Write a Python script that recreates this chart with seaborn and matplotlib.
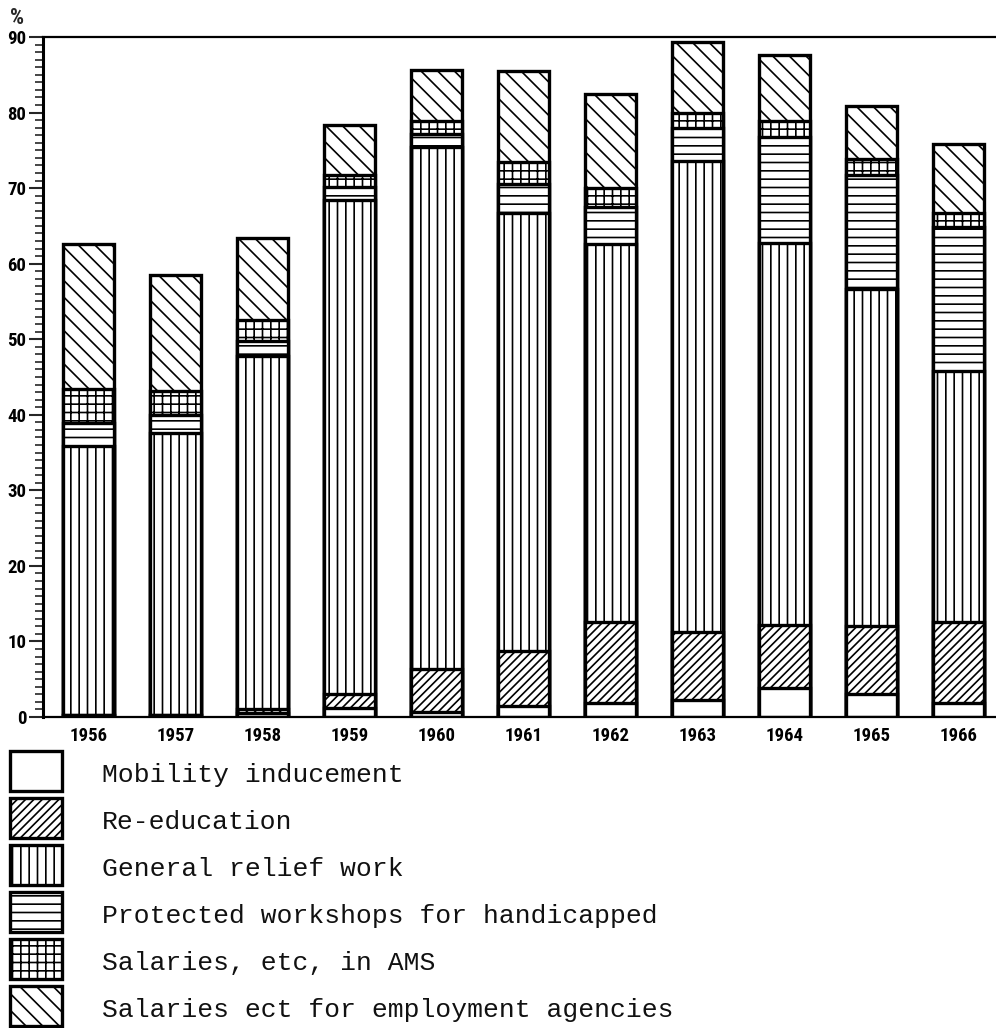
import numpy as np
import matplotlib
matplotlib.use("Agg")
import matplotlib.pyplot as plt
import seaborn as sns
from matplotlib.patches import Rectangle

# values (percent)
years = ["1956", "1957", "1958", "1959", "1960", "1961", "1962", "1963", "1964", "1965", "1966"]
mobility = [0.2, 0.2, 0.5, 1.2, 0.7, 1.5, 1.8, 2.3, 3.9, 3.0, 1.8]
reeducation = [0.0, 0.0, 0.6, 1.9, 5.6, 7.2, 10.8, 8.9, 8.3, 9.0, 10.8]
relief = [35.7, 37.4, 46.7, 65.3, 69.2, 58.0, 50.0, 62.4, 50.6, 44.6, 33.2]
workshops = [3.0, 2.4, 1.9, 1.8, 1.7, 3.9, 4.9, 4.3, 14.0, 15.1, 19.1]
ams = [4.5, 3.2, 2.8, 1.5, 1.7, 2.9, 2.5, 2.0, 2.1, 2.1, 1.8]
agencies = [19.2, 15.3, 10.9, 6.6, 6.7, 12.0, 12.5, 9.4, 8.7, 7.1, 9.1]

labels = ["Mobility inducement", "Re-education", "General relief work",
          "Protected workshops for handicapped", "Salaries, etc, in AMS",
          "Salaries ect for employment agencies"]
hatches = ["", "////", "||", "--", "++", "\\\\"]

sns.set_theme(style="white")
plt.rcParams["hatch.linewidth"] = 1.2
plt.rcParams["hatch.color"] = "black"

series = [mobility, reeducation, relief, workshops, ams, agencies]
cum = np.cumsum(np.array(series), axis=0)

W, H = 996, 1028
fig = plt.figure(figsize=(W / 100, H / 100), dpi=100)
ax = fig.add_axes([43 / W, 311 / H, 953 / W, 680 / H])

# stacked bars: draw the tallest cumulative first, smaller ones on top
for i in range(len(series) - 1, -1, -1):
    sns.barplot(x=years, y=cum[i], color="white", saturation=1, edgecolor="black",
                linewidth=2.4, hatch=hatches[i], width=0.59, errorbar=None, ax=ax)

ax.set_xlim(-0.523, 10.431)
ax.set_ylim(0, 90)
ax.set_yticks(range(0, 91, 10))
ax.set_yticks(range(0, 91, 1), minor=True)
ax.tick_params(axis="y", which="major", direction="out", length=10, width=1.5, left=True, pad=2)
ax.tick_params(axis="y", which="minor", direction="out", length=6, width=1.2, left=True)
ax.tick_params(axis="x", length=0, pad=7)

tick_font = ["Liberation Sans Narrow", "Roboto Condensed", "Roboto", "DejaVu Sans"]
for lab in ax.get_yticklabels() + ax.get_xticklabels():
    lab.set_family(tick_font)
    lab.set_fontweight("bold")
    lab.set_fontsize(13.5)
    lab.set_color("black")

for side in ["top", "left", "bottom"]:
    ax.spines[side].set_visible(True)
    ax.spines[side].set_color("black")
ax.spines["left"].set_linewidth(2.2)
ax.spines["bottom"].set_linewidth(1.6)
ax.spines["top"].set_linewidth(1.6)
ax.spines["right"].set_visible(False)
ax.set_xlabel("")
ax.set_ylabel("")

fig.text(0.01, 0.993, "%", fontsize=16, fontweight="bold", family=tick_font, va="top")

# legend: hatched boxes with typewriter labels under the plot
for k, (lab, h) in enumerate(zip(labels, hatches)):
    top = 751 + 47 * k
    fig.add_artist(Rectangle((10 / W, (H - top - 40) / H), 52 / W, 40 / H,
                             transform=fig.transFigure, facecolor="white",
                             edgecolor="black", linewidth=2.4, hatch=h))
    fig.text(102 / W, (H - top - 24) / H, lab, family="Liberation Mono", fontsize=19,
             va="center", ha="left", color="#111111")

fig.savefig("out.png", dpi=100, facecolor="white")
